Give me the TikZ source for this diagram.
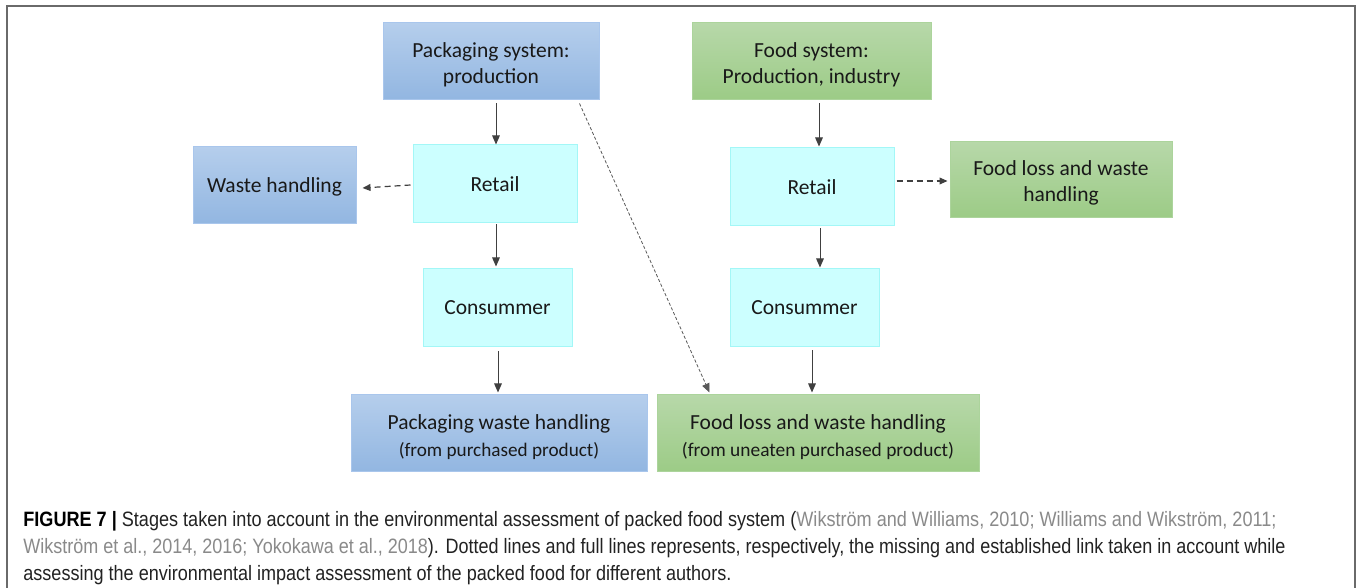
\documentclass[tikz,border=0pt]{standalone}
\usepackage{graphicx}
\usepackage{fontspec}
\setmainfont{Carlito}
\newfontfamily\capfont{Liberation Sans}
\usetikzlibrary{arrows.meta}
\definecolor{bluetop}{HTML}{B5CEEC}
\definecolor{bluebot}{HTML}{92B6E1}
\definecolor{blueedge}{HTML}{A9C6EC}
\definecolor{greentop}{HTML}{B7D8A9}
\definecolor{greenbot}{HTML}{9CCB86}
\definecolor{greenedge}{HTML}{ACD49C}
\definecolor{cyanfill}{HTML}{CCFFFF}
\definecolor{cyanedge}{HTML}{A3F7F7}
\definecolor{citegray}{HTML}{8A8A8A}
\definecolor{captext}{HTML}{222222}
\definecolor{framegray}{HTML}{6A6A6A}
\newcommand{\topstrut}[1]{\rule{0pt}{#1}}
\begin{document}
\begin{tikzpicture}[x=0.5pt,y=-0.5pt,
  box/.style={rectangle, inner sep=0pt, align=center, text=black!90,
    font=\fontsize{10.75}{13}\selectfont, line width=0.5pt},
  bluebox/.style={box, draw=blueedge, top color=bluetop, bottom color=bluebot},
  greenbox/.style={box, draw=greenedge, top color=greentop, bottom color=greenbot},
  cyanbox/.style={box, draw=cyanedge, fill=cyanfill},
  arr/.style={-{Triangle[length=4.5pt,width=3.8pt]}, line width=0.5pt, draw=black!75, fill=black!85},
  dasharr/.style={-{Triangle[length=4pt,width=3.4pt]}, line width=0.6pt, draw=black!75,
    dash pattern=on 3pt off 2pt},
  dotarr/.style={-{Triangle[length=4.5pt,width=3.8pt]}, line width=0.4pt, draw=black!65,
    dash pattern=on 1.6pt off 1pt},
  capline/.style={inner sep=0pt, anchor=base west, text=captext,
    font=\capfont\fontsize{10.4}{12}\selectfont}
]
\useasboundingbox (0,0) rectangle (1357,588);
\fill[white] (0,0) rectangle (1357,588);
\draw[framegray, line width=1pt] (7,600) -- (7,6) -- (1355,6) -- (1355,600);

% boxes
\node[bluebox, minimum width=108pt, minimum height=38.5pt] (pkg) at (491,61.5)
  {\topstrut{11pt}Packaging system:\\production};
\node[greenbox, minimum width=119.5pt, minimum height=38.5pt] (food) at (811.5,61.5)
  {\topstrut{11pt}Food system:\\Production, industry};
\node[bluebox, minimum width=81.5pt, minimum height=38.5pt] (waste) at (274.5,185.5)
  {\topstrut{9pt}Waste handling};
\node[cyanbox, minimum width=82pt, minimum height=39pt] (retailL) at (495,184)
  {Retail};
\node[cyanbox, minimum width=74.5pt, minimum height=39pt] (consL) at (497.5,308)
  {Consummer};
\node[bluebox, minimum width=148pt, minimum height=38.5pt] (pkgwaste) at (499,433.5)
  {\topstrut{11.5pt}Packaging waste handling\\[0.5pt]{\fontsize{9.6}{12}\selectfont(from purchased product)}};
\node[cyanbox, minimum width=82pt, minimum height=39pt] (retailR) at (812,187)
  {Retail};
\node[greenbox, minimum width=111pt, minimum height=38pt] (foodloss) at (1061,180)
  {\topstrut{10pt}Food loss and waste\\handling};
\node[cyanbox, minimum width=74.5pt, minimum height=39pt] (consR) at (804.5,308)
  {Consummer};
\node[greenbox, minimum width=161pt, minimum height=38.5pt] (foodlossB) at (818,433.5)
  {\topstrut{11.5pt}Food loss and waste handling\\[0.5pt]{\fontsize{9.7}{12}\selectfont(from uneaten purchased product)}};

% connectors, left column
\draw[arr] ([xshift=2.5pt,yshift=-1.5pt]pkg.south) -- ([xshift=0.5pt]retailL.north);
\draw[arr] ([xshift=0.5pt,yshift=-0.5pt]retailL.south) -- ([xshift=-0.75pt,yshift=1pt]consL.north);
\draw[arr] ([xshift=0.25pt,yshift=-2pt]consL.south) -- ([xshift=-0.5pt,yshift=1pt]pkgwaste.north);
\draw[dasharr] ([xshift=-1pt,yshift=-0.5pt]retailL.west) -- ([xshift=3pt,yshift=-1.25pt]waste.east);
\draw[dotarr] ([xshift=-10pt,yshift=-1.5pt]pkg.south east) -- ([xshift=26.5pt,yshift=1pt]foodlossB.north west);

% connectors, right column
\draw[arr] ([xshift=3.75pt,yshift=-1.5pt]food.south) -- ([xshift=3.5pt,yshift=0.5pt]retailR.north);
\draw[arr] ([xshift=4pt,yshift=-1pt]retailR.south) -- ([xshift=7.75pt,yshift=0.5pt]consR.north);
\draw[arr] ([xshift=3.75pt,yshift=-1.5pt]consR.south) -- ([xshift=-3pt,yshift=1pt]foodlossB.north);
\draw[dasharr] ([xshift=1pt,yshift=3pt]retailR.east) -- ([xshift=-1pt,yshift=-0.5pt]foodloss.west);

% caption
\node[capline] (cap1) at (23,527) {\resizebox{626.5pt}{\height}{{\color{black}\bfseries FIGURE 7 |} Stages taken into account in the environmental assessment of packed food system ({\color{citegray}Wikström and Williams, 2010; Williams and Wikström, 2011;}}};
\node[capline] (cap2) at (23,554) {\resizebox{631pt}{\height}{{\color{citegray}Wikström et al., 2014, 2016; Yokokawa et al., 2018}). Dotted lines and full lines represents, respectively, the missing and established link taken in account while}};
\node[capline] (cap3) at (23,581) {\resizebox{354pt}{\height}{assessing the environmental impact assessment of the packed food for different authors.}};
\end{tikzpicture}
\end{document}
